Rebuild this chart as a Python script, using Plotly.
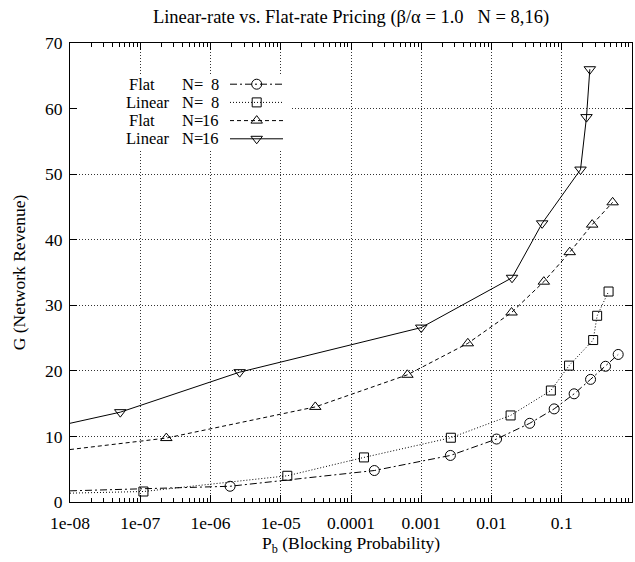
import plotly.graph_objects as go

# ---------------- data ----------------
# first entry of each series is where the curve enters the plot at the left
# border (no marker drawn there)
flat8_pb = [1e-8, 1.9e-6, 2.15e-4, 2.6e-3, 0.0118, 0.035, 0.078, 0.150, 0.257, 0.42, 0.636]
flat8_g = [1.7, 2.4, 4.8, 7.1, 9.6, 12.0, 14.2, 16.5, 18.7, 20.7, 22.5]

lin8_pb = [1e-8, 1.11e-7, 1.24e-5, 1.53e-4, 2.64e-3, 0.0187, 0.070, 0.127, 0.28, 0.319, 0.464]
lin8_g = [1.35, 1.6, 4.0, 6.8, 9.8, 13.2, 17.0, 20.8, 24.7, 28.4, 32.1]

flat16_pb = [1e-8, 2.35e-7, 3.1e-5, 6.35e-4, 4.6e-3, 0.0193, 0.0556, 0.130, 0.271, 0.53]
flat16_g = [8.0, 9.75, 14.5, 19.4, 24.2, 28.9, 33.6, 38.1, 42.3, 45.7]

lin16_pb = [1e-8, 5.2e-8, 2.6e-6, 1.0e-3, 0.0196, 0.0526, 0.185, 0.225, 0.251]
lin16_g = [12.0, 13.7, 19.8, 26.6, 34.2, 42.5, 50.7, 58.7, 66.0]

series_names = ["Flat", "Linear", "Flat", "Linear"]
series_n = ["8", "8", "16", "16"]

x_tickvals = [1e-8, 1e-7, 1e-6, 1e-5, 1e-4, 1e-3, 1e-2, 1e-1, 1]
x_ticktext = ["1e-08", "1e-07", "1e-06", "1e-05", "0.0001", "0.001", "0.01", "0.1", "1"]
y_tickvals = [0, 10, 20, 30, 40, 50, 60, 70]

# ---------------- styles ----------------
FONT = "Liberation Serif"
styles = [
    dict(symbol="circle-open", size=10, dash="7px,3px,2px,3px"),
    dict(symbol="square-open", size=9, dash="1px,2px"),
    dict(symbol="triangle-up-open", size=10, dash="4px,3px"),
    dict(symbol="triangle-down-open", size=10, dash="solid"),
]
data = [(flat8_pb, flat8_g), (lin8_pb, lin8_g), (flat16_pb, flat16_g), (lin16_pb, lin16_g)]

W, H = 635, 562
ML, MR, MT, MB = 70, 3, 43, 60
PW, PH = W - ML - MR, H - MT - MB


def pxx(px):
    return (px - ML) / PW


def pxy(py):
    return (MT + PH - py) / PH


fig = go.Figure()
for (xs, ys), st in zip(data, styles):
    fig.add_trace(go.Scatter(
        x=xs, y=ys, mode="lines+markers", showlegend=False,
        line=dict(color="black", width=1, dash=st["dash"]),
        marker=dict(symbol=st["symbol"], size=st["size"], color="black",
                    line=dict(color="black", width=1),
                    opacity=[0] + [1] * (len(xs) - 1)),
    ))

# ---------------- custom gnuplot-style key (layout only, pixel positions) ----------------
KEY_FS = 16.5
key_rows = [84.2, 102.4, 120.6, 138.8]
key_x0, key_xm, key_x1 = 230, 256.7, 283
key_name_x = [128, 125, 128, 125]
key_eq_x = 181
key_num_x = 220

blk = dict(color="black", width=1)
shapes = [dict(type="rect", xref="paper", yref="paper", x0=pxx(79), x1=pxx(292),
               y0=pxy(150), y1=pxy(74), fillcolor="white", line=dict(width=0), layer="above")]
annotations = []
for i, st in enumerate(styles):
    r = key_rows[i]
    shapes.append(dict(type="line", xref="paper", yref="paper", x0=pxx(key_x0), x1=pxx(key_x1),
                       y0=pxy(r), y1=pxy(r), line=dict(color="black", width=1, dash=st["dash"])))
    cx = key_xm
    if st["symbol"].startswith("circle"):
        shapes.append(dict(type="circle", xref="paper", yref="paper", x0=pxx(cx - 5), x1=pxx(cx + 5),
                           y0=pxy(r + 5), y1=pxy(r - 5), line=blk, fillcolor="rgba(0,0,0,0)"))
    elif st["symbol"].startswith("square"):
        shapes.append(dict(type="rect", xref="paper", yref="paper", x0=pxx(cx - 4.5), x1=pxx(cx + 4.5),
                           y0=pxy(r + 4.5), y1=pxy(r - 4.5), line=blk, fillcolor="rgba(0,0,0,0)"))
    else:
        s = 1 if "up" in st["symbol"] else -1
        pts = [(cx - 5.77, r + 2.5 * s), (cx + 5.77, r + 2.5 * s), (cx, r - 5 * s)]
        path = "M{:.5f},{:.5f} L{:.5f},{:.5f} L{:.5f},{:.5f} Z".format(
            pxx(pts[0][0]), pxy(pts[0][1]), pxx(pts[1][0]), pxy(pts[1][1]), pxx(pts[2][0]), pxy(pts[2][1]))
        shapes.append(dict(type="path", xref="paper", yref="paper", path=path, line=blk,
                           fillcolor="rgba(0,0,0,0)"))
    for tx, xa, anc in ((series_names[i], key_name_x[i], "left"),
                        ("N=", key_eq_x, "left"),
                        (series_n[i], key_num_x, "right")):
        annotations.append(dict(x=pxx(xa), y=pxy(r), xref="paper", yref="paper", text=tx,
                                showarrow=False, xanchor=anc, yanchor="middle", borderpad=0,
                                font=dict(family=FONT, size=KEY_FS, color="black")))

minor_x = [k * 10.0 ** e for e in range(-8, 0) for k in range(2, 10)]

axis_common = dict(showline=True, linecolor="black", linewidth=1, mirror="allticks",
                   ticks="inside", ticklen=7, tickcolor="black", tickwidth=1,
                   showgrid=True, gridcolor="#333", gridwidth=1, griddash="1px,2px",
                   zeroline=False, automargin=False,
                   tickfont=dict(family=FONT, size=17.5, color="black"))

fig.update_layout(
    width=W, height=H, margin=dict(l=ML, r=MR, t=MT, b=MB),
    paper_bgcolor="white", plot_bgcolor="white",
    font=dict(family=FONT, color="black"),
    title=dict(text="Linear-rate vs. Flat-rate Pricing (β/α = 1.0   N = 8,16)",
               x=(ML + PW / 2) / W, xanchor="center", y=1 - 17 / H, yanchor="middle",
               font=dict(family=FONT, size=18.5, color="black")),
    xaxis=dict(type="log", range=[-8, 0], tickmode="array", tickvals=x_tickvals,
               ticktext=x_ticktext, ticklabelstandoff=5,
               title=dict(text="P<sub>b</sub> (Blocking Probability)", standoff=4,
                          font=dict(family=FONT, size=17.5, color="black")),
               minor=dict(tickmode="array", tickvals=minor_x, ticks="inside", ticklen=4,
                          tickcolor="black", showgrid=False),
               **axis_common),
    yaxis=dict(range=[0, 70], tickmode="array", tickvals=y_tickvals, ticklabelstandoff=3,
               title=dict(text="G (Network Revenue)", standoff=14,
                          font=dict(family=FONT, size=17.5, color="black")),
               **axis_common),
    annotations=annotations,
    shapes=shapes,
)

fig.write_html("out.html", config={"displayModeBar": False},
               post_script="document.body.style.margin='0';document.body.style.overflow='hidden';")
